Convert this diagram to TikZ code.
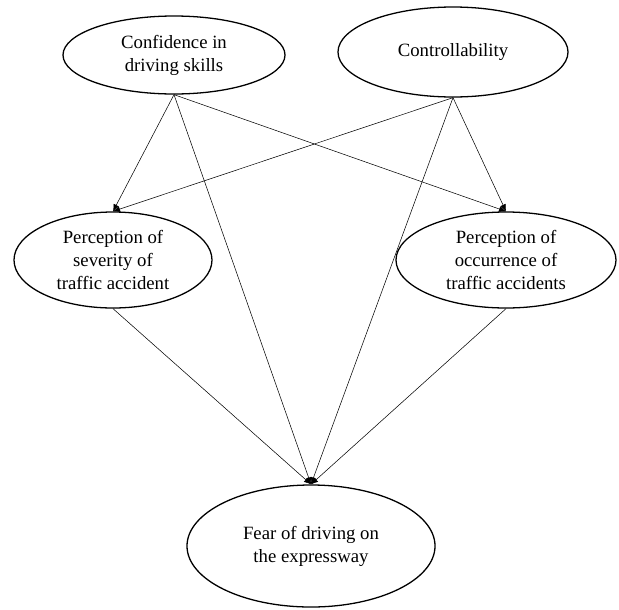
\documentclass[tikz,border=0pt]{standalone}
\usepackage{fontspec}
\setmainfont{Liberation Serif}
\usetikzlibrary{shapes.geometric,arrows.meta}

\begin{document}
\begin{tikzpicture}[x=0.03cm,y=-0.03cm,
      factor/.style={draw,ellipse,line width=1.1pt,inner sep=0pt,align=center,
                     font=\fontsize{16}{19.5}\selectfont},
      link/.style={-{Latex[length=6pt,width=5pt]},line width=0.45pt}]
      \useasboundingbox (0,0) rectangle (619,609);
      % causes
      \node[factor,minimum width=6.66cm,minimum height=2.34cm] (skill) at (174,55)
           {Confidence in\\driving skills};
      \node[factor,minimum width=6.9cm,minimum height=2.7cm] (ctrl) at (453,52)
           {Controllability};
      % perceptions
      \node[factor,minimum width=5.94cm,minimum height=2.88cm] (sev) at (113,260)
           {Perception of\\severity of\\traffic accident};
      \node[factor,minimum width=6.6cm,minimum height=2.88cm] (occ) at (506,260)
           {Perception of\\occurrence of\\traffic accidents};
      % outcome
      \node[factor,minimum width=7.44cm,minimum height=3.66cm] (fear) at (311,546)
           {Fear of driving on\\the expressway};
      \draw[link] (skill.south) -- (sev.north);
      \draw[link] (skill.south) -- (occ.north);
      \draw[link] (skill.south) -- (fear.north);
      \draw[link] (ctrl.south) -- (sev.north);
      \draw[link] (ctrl.south) -- (occ.north);
      \draw[link] (ctrl.south) -- (fear.north);
      \draw[link] (sev.south) -- (fear.north);
      \draw[link] (occ.south) -- (fear.north);
  \end{tikzpicture}
\end{document}
